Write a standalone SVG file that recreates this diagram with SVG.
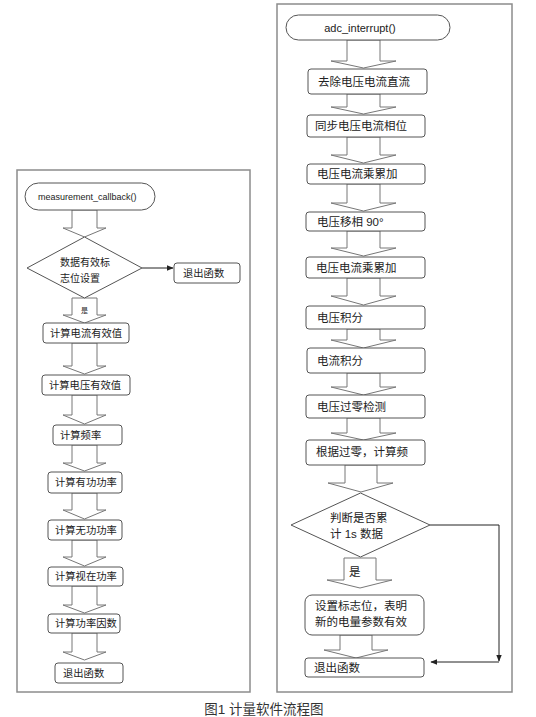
<svg xmlns="http://www.w3.org/2000/svg" width="536" height="717" viewBox="0 0 536 717">
<defs>
<style>
.panel{fill:#fff;stroke:#8c8c8c;stroke-width:1.5}
.box{fill:#fff;stroke:#555;stroke-width:1}
.term{fill:#fff;stroke:#555;stroke-width:1}
.dia{fill:#fff;stroke:#555;stroke-width:1}
.barrow{fill:#fff;stroke:#777;stroke-width:1}
.line{fill:none;stroke:#222;stroke-width:1}
.t{font-family:"Liberation Sans","Noto Sans CJK SC",sans-serif;fill:#222;dominant-baseline:central}
.ls{font-size:10.3px}
.rs{font-size:11.5px}
.cap{font-family:"Liberation Sans","Noto Sans CJK SC",sans-serif;font-size:13.5px;fill:#333}
</style>
<marker id="ah" viewBox="0 0 10 10" refX="9" refY="5" markerWidth="7" markerHeight="7" orient="auto" markerUnits="userSpaceOnUse">
<path d="M0,1 L10,5 L0,9 Z" fill="#222"/>
</marker>
</defs>
<rect width="536" height="717" fill="#fff"/>
<g id="panels">
<rect class="panel" x="17" y="170" width="233" height="522"/>
<rect class="panel" x="277" y="4" width="235" height="688"/>
</g>
<g id="connectors">
<polygon class="barrow" points="72,210 97,210 97,228 106,228 84.5,237 63,228 72,228"/>
<polygon class="barrow" points="72,298 97,298 97,315 106,315 84.5,323 63,315 72,315"/>
<polygon class="barrow" points="72,343 97,343 97,366 106,366 84.5,374 63,366 72,366"/>
<polygon class="barrow" points="72,395 97,395 97,415 106,415 84.5,424 63,415 72,415"/>
<polygon class="barrow" points="72,445 97,445 97,463 106,463 84.5,471 63,463 72,463"/>
<polygon class="barrow" points="72,493 97,493 97,510 106,510 84.5,519 63,510 72,510"/>
<polygon class="barrow" points="72,540 97,540 97,557 106,557 84.5,566 63,557 72,557"/>
<polygon class="barrow" points="72,586 97,586 97,605 106,605 84.5,613 63,605 72,605"/>
<polygon class="barrow" points="72,633 97,633 97,652 106,652 84.5,660 63,652 72,652"/>
<path class="line" d="M142,268 L173,268" marker-end="url(#ah)"/>
<text class="t" x="81" y="310" font-size="7px">是</text>
<polygon class="barrow" points="347,40 380,40 380,61 396,61 363.5,68 331,61 347,61"/>
<polygon class="barrow" points="347,94 380,94 380,107 396,107 363.5,114 331,107 347,107"/>
<polygon class="barrow" points="347,137 380,137 380,155 396,155 363.5,163 331,155 347,155"/>
<polygon class="barrow" points="347,184 380,184 380,203 396,203 363.5,211 331,203 347,203"/>
<polygon class="barrow" points="347,231 380,231 380,248 396,248 363.5,256 331,248 347,248"/>
<polygon class="barrow" points="347,278 380,278 380,296 396,296 363.5,305 331,296 347,296"/>
<polygon class="barrow" points="347,329 380,329 380,340 396,340 363.5,348 331,340 347,340"/>
<polygon class="barrow" points="347,373 380,373 380,387 396,387 363.5,395 331,387 347,387"/>
<polygon class="barrow" points="347,418 380,418 380,433 396,433 363.5,440 331,433 347,433"/>
<polygon class="barrow" points="345,465 377,465 377,483 393,483 361,492 328,483 345,483"/>
<polygon class="barrow" points="344,558 376,558 376,580 392,580 360,588 327,580 344,580"/>
<polygon class="barrow" points="340,635 372,635 372,650 388,650 356,658 324,650 340,650"/>
<text class="t rs" x="349" y="572">是</text>
<path class="line" d="M430,525 L499,525 L499,661" marker-end="url(#ah)"/>
<path class="line" d="M499,662 L431,662" marker-end="url(#ah)"/>
</g>
<g id="n-measure">
<rect class="term" x="25" y="183" width="130" height="27" rx="13.5"/>
<text class="t" x="38" y="197" font-size="9px">measurement_callback()</text>
</g>
<g id="n-check">
<polygon class="dia" points="84.5,237 142,268 84.5,298 27,268"/>
<text class="t" x="60" y="262" font-size="10px">数据有效标</text>
<text class="t" x="60" y="278" font-size="10px">志位设置</text>
</g>
<g id="n-exit-l1">
<rect class="box" x="174" y="263" width="66" height="20" rx="3"/>
<text class="t ls" x="183" y="273">退出函数</text>
</g>
<g id="n-irms">
<rect class="box" x="43" y="323" width="86" height="20" rx="3"/>
<text class="t ls" x="50" y="333">计算电流有效值</text>
</g>
<g id="n-vrms">
<rect class="box" x="42" y="375" width="88" height="20" rx="3"/>
<text class="t ls" x="49" y="385">计算电压有效值</text>
</g>
<g id="n-freq">
<rect class="box" x="53" y="425" width="69" height="20" rx="3"/>
<text class="t ls" x="60" y="435">计算频率</text>
</g>
<g id="n-p">
<rect class="box" x="48" y="472" width="74" height="21" rx="3"/>
<text class="t ls" x="55" y="482.5">计算有功功率</text>
</g>
<g id="n-q">
<rect class="box" x="48" y="520" width="74" height="20" rx="3"/>
<text class="t ls" x="55" y="530">计算无功功率</text>
</g>
<g id="n-s">
<rect class="box" x="48" y="567" width="75" height="19" rx="3"/>
<text class="t ls" x="55" y="576.5">计算视在功率</text>
</g>
<g id="n-pf">
<rect class="box" x="48" y="614" width="72" height="19" rx="3"/>
<text class="t ls" x="55" y="623.5">计算功率因数</text>
</g>
<g id="n-exit-l2">
<rect class="box" x="55" y="663" width="68" height="20" rx="3"/>
<text class="t ls" x="63" y="673">退出函数</text>
</g>
<g id="n-adc">
<rect class="term" x="286" y="15" width="164" height="25" rx="12.5"/>
<text class="t" x="360" y="28" font-size="11px" text-anchor="middle">adc_interrupt()</text>
</g>
<g id="n-dc">
<rect class="box" x="308" y="69" width="119" height="25" rx="3"/>
<text class="t rs" x="318" y="81.5">去除电压电流直流</text>
</g>
<g id="n-sync">
<rect class="box" x="307" y="115" width="118" height="22" rx="3"/>
<text class="t rs" x="315" y="126">同步电压电流相位</text>
</g>
<g id="n-mac1">
<rect class="box" x="307" y="164" width="118" height="20" rx="3"/>
<text class="t rs" x="317" y="174">电压电流乘累加</text>
</g>
<g id="n-shift">
<rect class="box" x="306" y="212" width="119" height="19" rx="3"/>
<text class="t rs" x="317" y="221.5">电压移相 90°</text>
</g>
<g id="n-mac2">
<rect class="box" x="306" y="257" width="119" height="21" rx="3"/>
<text class="t rs" x="316" y="267.5">电压电流乘累加</text>
</g>
<g id="n-vint">
<rect class="box" x="306" y="306" width="119" height="23" rx="3"/>
<text class="t rs" x="317" y="317.5">电压积分</text>
</g>
<g id="n-iint">
<rect class="box" x="307" y="348" width="118" height="25" rx="3"/>
<text class="t rs" x="317" y="360.5">电流积分</text>
</g>
<g id="n-zc">
<rect class="box" x="306" y="395" width="119" height="23" rx="3"/>
<text class="t rs" x="317" y="406.5">电压过零检测</text>
</g>
<g id="n-fcalc">
<rect class="box" x="306" y="440" width="119" height="25" rx="3"/>
<text class="t rs" x="316" y="452">根据过零，计算频</text>
</g>
<g id="n-1s">
<polygon class="dia" points="360.5,493 430,525 360.5,557 291,525"/>
<text class="t rs" x="330" y="518">判断是否累</text>
<text class="t rs" x="330" y="534">计 1s 数据</text>
</g>
<g id="n-flag">
<rect class="box" x="305" y="595" width="119" height="40" rx="7"/>
<text class="t rs" x="315" y="606">设置标志位，表明</text>
<text class="t rs" x="315" y="622">新的电量参数有效</text>
</g>
<g id="n-exit-r">
<rect class="box" x="305" y="658" width="119" height="19" rx="3"/>
<text class="t rs" x="314" y="667.5">退出函数</text>
</g>
<text class="cap" x="264" y="714" text-anchor="middle">图1 计量软件流程图</text>
</svg>
